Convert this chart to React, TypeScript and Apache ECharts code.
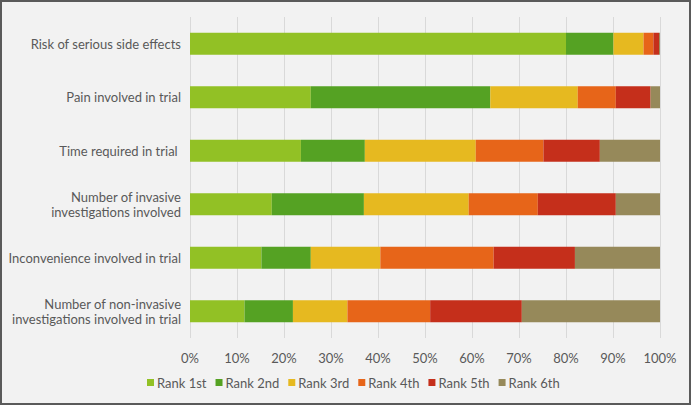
import React, { useEffect, useRef } from "react";
import * as echarts from "echarts";

const categories = [
  "Risk of serious side effects",
  "Pain involved in trial",
  "Time required in trial ",
  "Number of invasive\ninvestigations involved",
  "Inconvenience involved in trial",
  "Number of non-invasive\ninvestigations involved in trial",
];
const seriesNames = ["Rank 1st", "Rank 2nd", "Rank 3rd", "Rank 4th", "Rank 5th", "Rank 6th"];
const rank1 = [80.0, 25.7, 23.6, 17.4, 15.2, 11.6];
const rank2 = [10.1, 38.2, 13.6, 19.6, 10.5, 10.3];
const rank3 = [6.4, 18.6, 23.6, 22.3, 14.8, 11.6];
const rank4 = [2.1, 8.1, 14.4, 14.7, 24.1, 17.6];
const rank5 = [1.2, 7.4, 12.0, 16.6, 17.3, 19.5];
const rank6 = [0.2, 2.0, 12.8, 9.4, 18.1, 29.4];
const colors = ["#92c125", "#55a223", "#e6b920", "#e76519", "#c52f1b", "#96895a"];

export default function App() {
  const ref = useRef<HTMLDivElement>(null);
  useEffect(() => {
    const chart = echarts.init(ref.current!, null, { renderer: "svg" });
    const data = [rank1, rank2, rank3, rank4, rank5, rank6];
    const font = "Lato, 'Liberation Sans', Arial, sans-serif";
    chart.setOption({
      animation: false,
      backgroundColor: "#f2f2f2",
      textStyle: { fontFamily: font },
      grid: { left: 188, right: 29, top: 15, bottom: 65 },
      legend: {
        bottom: 9,
        left: 140,
        itemWidth: 7,
        itemHeight: 7,
        itemGap: 9,
        icon: "rect",
        textStyle: { color: "#595959", fontSize: 13, fontFamily: font, padding: [0, 0, 0, -2] },
        data: seriesNames,
      },
      xAxis: {
        type: "value",
        min: 0,
        max: 100,
        interval: 10,
        axisLabel: { formatter: "{value}%", color: "#595959", fontSize: 13, margin: 13 },
        axisLine: { show: false },
        axisTick: { show: false },
        splitLine: { lineStyle: { color: "#d9d9d9", width: 1 } },
      },
      yAxis: {
        type: "category",
        inverse: true,
        data: categories,
        axisLine: { show: false },
        axisTick: { show: false },
        axisLabel: { color: "#595959", fontSize: 13, margin: 9, lineHeight: 15, align: "right" },
      },
      series: seriesNames.map((name, i) => ({
        name,
        type: "bar",
        stack: "total",
        barWidth: 22,
        itemStyle: { color: colors[i] },
        data: data[i],
      })),
    });
    return () => chart.dispose();
  }, []);
  return (
    <div
      style={{
        position: "fixed",
        left: 0,
        top: 0,
        width: 691,
        height: 405,
        boxSizing: "border-box",
        border: "2px solid #5a5a5a",
        background: "#f2f2f2",
      }}
    >
      <div ref={ref} style={{ width: 687, height: 401 }} />
    </div>
  );
}
